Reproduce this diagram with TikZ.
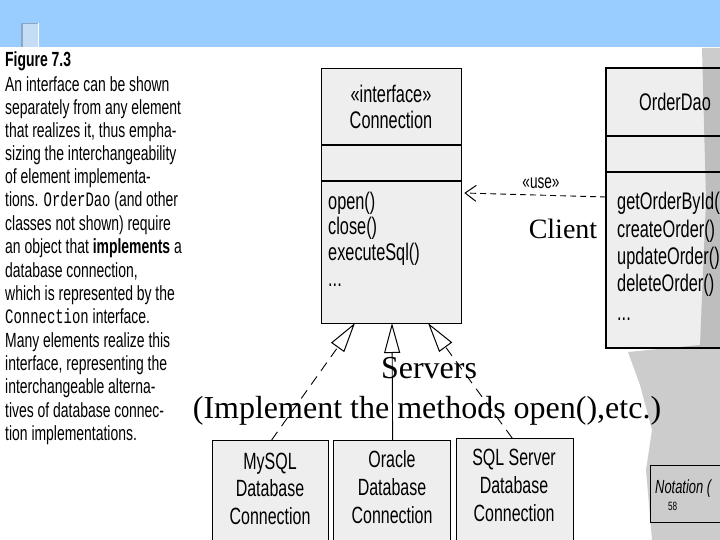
\documentclass[tikz,border=0pt]{standalone}
\usepackage{fontspec}
\setmainfont{Liberation Serif}
\newfontfamily\nsans[FakeStretch=0.68]{Liberation Sans}
\newfontfamily\nmono[FakeStretch=0.68]{Liberation Mono}
\usetikzlibrary{arrows.meta,calc}
\definecolor{band}{HTML}{99CCFF}
\definecolor{sq}{HTML}{C4DCF4}
\definecolor{sqedge}{HTML}{8AA6C4}
\definecolor{paper}{HTML}{EEEEEE}
\tikzset{
  umlbox/.style={draw=black, line width=1.3pt, fill=paper, inner sep=0pt, anchor=north west},
  captxt/.style={anchor=base west, inner sep=0pt, font=\nsans\fontsize{20.5}{23}\selectfont},
  boxtxt/.style={anchor=base, inner sep=0pt, font=\nsans\fontsize{24}{26}\selectfont},
  optxt/.style={anchor=base west, inner sep=0pt, font=\nsans\fontsize{24}{26}\selectfont},
  srvtxt/.style={anchor=base, inner sep=0pt, font=\nsans\fontsize{23.5}{26}\selectfont},
  bigtxt/.style={anchor=base, inner sep=0pt, font=\fontsize{32}{36}\selectfont},
  realize/.style={line width=0.9pt, -{Triangle[open, length=30pt, width=16pt, line width=1pt]}},
  usedep/.style={line width=0.9pt, dash pattern=on 6pt off 4pt, -{Straight Barb[length=11pt, width=16pt, line width=1pt]}}
}
\begin{document}
\begin{tikzpicture}[x=1pt, y=-1pt]
\useasboundingbox (0,0) rectangle (720,540);
\clip (0,0) rectangle (720,540);
\fill[white] (0,0) rectangle (720,540);
% top band
\fill[band] (0,0) rectangle (720,47);
\fill[sq] (21,23) rectangle (39,47);
\draw[sqedge, line width=1.5pt] (21.75,47) -- (21.75,23.75) -- (38,23.75);
\draw[white, line width=1.2pt] (38.6,23) -- (38.6,47);

% caption
\node[captxt, font=\nsans\bfseries\fontsize{20.5}{23}\selectfont] (cap0) at (5,67) {Figure 7.3};
\node[captxt] (cap1) at (5,92) {An interface can be shown};
\node[captxt] (cap2) at (5,115) {separately from any element};
\node[captxt] (cap3) at (5,138) {that realizes it, thus empha-};
\node[captxt] (cap4) at (5,161) {sizing the interchangeability};
\node[captxt] (cap5) at (5,184) {of element implementa-};
\node[captxt] (cap6) at (5,207) {tions. {\nmono OrderDao} (and other};
\node[captxt] (cap7) at (5,230) {classes not shown) require};
\node[captxt] (cap8) at (5,254) {an object that \textbf{implements} a};
\node[captxt] (cap9) at (5,277) {database connection,};
\node[captxt] (cap10) at (5,300) {which is represented by the};
\node[captxt] (cap11) at (5,323) {{\nmono Connection} interface.};
\node[captxt] (cap12) at (5,347) {Many elements realize this};
\node[captxt] (cap13) at (5,370) {interface, representing the};
\node[captxt] (cap14) at (5,393) {interchangeable alterna-};
\node[captxt] (cap15) at (5,417) {tives of database connec-};
\node[captxt] (cap16) at (5,440) {tion implementations.};

% Connection interface box
\node[umlbox, minimum width=140, minimum height=255] (conn) at (321,68) {};
\draw[line width=1.3pt] ($(conn.north west)+(0,77)$) -- ($(conn.north east)+(0,77)$);
\draw[line width=1.3pt] ($(conn.north west)+(0,113)$) -- ($(conn.north east)+(0,113)$);
\node[boxtxt] (conn-st) at (391,103) {«interface»};
\node[boxtxt] (conn-name) at (391,129) {Connection};
\node[optxt] (conn-op1) at (328,210) {open()};
\node[optxt] (conn-op2) at (328,235) {close()};
\node[optxt] (conn-op3) at (328,260) {executeSql()};
\node[optxt] (conn-op4) at (328,286) {...};

% OrderDao box
\node[umlbox, minimum width=150, minimum height=279] (od) at (606,68) {};
\fill[black, opacity=0.2] (702,48) -- (720,48) -- (720,540) -- (652,540) -- (646,470) -- (652,430) -- (640,385) -- (628,352) -- (700,345) -- (706,200) -- cycle;
\draw[line width=1.3pt] (od.north west) rectangle (od.south east);
\draw[line width=1.3pt] ($(od.north west)+(0,68)$) -- ($(od.north east)+(0,68)$);
\draw[line width=1.3pt] ($(od.north west)+(0,104)$) -- ($(od.north east)+(0,104)$);
\node[boxtxt] (od-name) at (675,111) {OrderDao};
\node[optxt] (od-op1) at (617,210) {getOrderById()};
\node[optxt] (od-op2) at (617,237) {createOrder()};
\node[optxt] (od-op3) at (617,264) {updateOrder()};
\node[optxt] (od-op4) at (617,291) {deleteOrder()};
\node[optxt] (od-op5) at (617,320) {...};

% use dependency
\coordinate (use-from) at ($(od.north west)+(0,129)$);
\coordinate (use-to) at ($(conn.north east)+(2,125)$);
\draw[usedep] (use-from) -- (use-to);
\node[anchor=base, inner sep=0pt, font=\nsans\fontsize{20}{22}\selectfont] (use-lbl) at (541,189) {«use»};
\node[anchor=base, inner sep=0pt, font=\fontsize{28}{32}\selectfont] (client) at (563,239) {Client};

% server boxes
\node[umlbox, minimum width=116, minimum height=100] (mysql) at (212,440) {};
\node[umlbox, minimum width=117, minimum height=100] (oracle) at (333,440) {};
\node[umlbox, minimum width=117, minimum height=102] (sqls) at (456,438) {};
\node[srvtxt] (mysql-1) at (270,469) {MySQL};
\node[srvtxt] (mysql-2) at (270,496) {Database};
\node[srvtxt] (mysql-3) at (270,524) {Connection};
\node[srvtxt] (oracle-1) at (392,467) {Oracle};
\node[srvtxt] (oracle-2) at (392,495) {Database};
\node[srvtxt] (oracle-3) at (392,523) {Connection};
\node[srvtxt] (sqls-1) at (514,465) {SQL Server};
\node[srvtxt] (sqls-2) at (514,493) {Database};
\node[srvtxt] (sqls-3) at (514,521) {Connection};

% realization connectors
\coordinate (tip1) at (355,323);
\coordinate (tip2) at (392,323);
\coordinate (tip3) at (428,323);
\draw[realize, dash pattern=on 10pt off 7pt] ($(mysql.north)+(1,0)$) -- (tip1);
\draw[realize] ($(oracle.north)+(0.5,0)$) -- (tip2);
\draw[realize, dash pattern=on 10pt off 7pt] ($(sqls.north)+(-3,0)$) -- (tip3);

% big labels
\node[bigtxt] (servers) at (429,378) {Servers};
\node[bigtxt] (implement) at (427,418) {(Implement the methods open(),etc.)};

% notation box
\node[umlbox, fill=none, minimum width=90, minimum height=57] (nota) at (650,465) {};
\node[anchor=base west, inner sep=0pt, font=\nsans\itshape\fontsize{19}{22}\selectfont] (nota-txt) at (655,493) {Notation (};
\node[anchor=base west, inner sep=0pt, font=\nsans\fontsize{12}{14}\selectfont] (nota-pg) at (668,510) {58};
\end{tikzpicture}
\end{document}
